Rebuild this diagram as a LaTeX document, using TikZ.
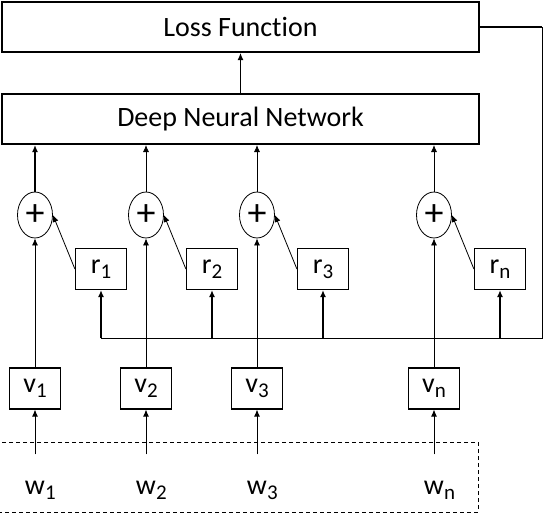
\documentclass[tikz,border=0pt]{standalone}
\usepackage{fontspec}
\setmainfont[Ligatures=NoCommon]{Carlito}
\usetikzlibrary{arrows.meta,shapes,positioning}
\newcommand{\idx}[1]{\raisebox{-5pt}{\fontsize{21}{24}\selectfont #1}}

\begin{document}
\begin{tikzpicture}
  [x=1pt,y=-1pt,
 every node/.style={font=\fontsize{28}{32}\selectfont},
 layer/.style={
  rectangle,
  line width=2pt, % border
  draw=black,
  minimum width=477pt,
  minimum height=50pt},
 sumop/.style={
  ellipse,
  draw=black,
  line width=0.8pt,
  inner sep=0pt,
  minimum width=35pt,
  minimum height=46pt,
  font=\fontsize{38}{40}\selectfont},
 term/.style={
  rectangle,
  draw=black,
  line width=1.2pt,
  inner sep=0pt,
  minimum width=51pt,
  minimum height=41pt},
 word/.style={inner sep=0pt, anchor=base},
 tip/.style={-{Latex[length=7pt,width=6pt]}, line width=0.8pt}]
\useasboundingbox (0,0) rectangle (544,514);
\node (loss) [layer] at (240.5,27) {Loss Function};
\node (dnn) [layer, below=40pt of loss] {Deep Neural Network};
\node (plus1) [sumop] at (35,215) {+};
\node (plus2) [sumop] at (146,215) {+};
\node (plus3) [sumop] at (257,215) {+};
\node (plusn) [sumop] at (434,215) {+};
\node (r1) [term] at (101,269) {r\idx{1}};
\node (r2) [term] at (212,269) {r\idx{2}};
\node (r3) [term] at (323,269) {r\idx{3}};
\node (rn) [term] at (500,269) {r\idx{n}};
\node (v1) [term, below=129pt of plus1] {v\idx{1}};
\node (v2) [term, below=129pt of plus2] {v\idx{2}};
\node (v3) [term, below=129pt of plus3] {v\idx{3}};
\node (vn) [term, below=129pt of plusn] {v\idx{n}};
\node (w1) [word] at (35,494) {w\rlap{\idx{1}}};
\node (w2) [word] at (146,494) {w\rlap{\idx{2}}};
\node (w3) [word] at (257,494) {w\rlap{\idx{3}}};
\node (wn) [word] at (434,494) {w\rlap{\idx{n}}};
\node (inputs) [draw, line width=0.8pt, dash pattern=on 4pt off 3pt, minimum width=480pt, minimum height=70pt] at (238,477) {};
\coordinate (fbtop) at (542,27);
\coordinate (fbbottom) at (542,338);
\path (dnn)  edge[tip, line width=1.2pt] (loss) ;
\path (plus1)  edge[tip, line width=1.6pt] (plus1 |- dnn.south) ;
\path (plus2)  edge[tip] (plus2 |- dnn.south) ;
\path (plus3)  edge[tip] (plus3 |- dnn.south) ;
\path (plusn)  edge[tip] (plusn |- dnn.south) ;
\path (v1)  edge[tip] (plus1) ;
\path (v2)  edge[tip] (plus2) ;
\path (v3)  edge[tip] (plus3) ;
\path (vn)  edge[tip] (plusn) ;
\path (r1.west)  edge[tip] (plus1.east) ;
\path (r2.west)  edge[tip] (plus2.east) ;
\path (r3.west)  edge[tip] (plus3.east) ;
\path (rn.west)  edge[tip] (plusn.east) ;
\path (w1)  edge[tip, shorten <=26pt] (v1) ;
\path (w2)  edge[tip, shorten <=26pt] (v2) ;
\path (w3)  edge[tip, shorten <=26pt] (v3) ;
\path (wn)  edge[tip, shorten <=26pt] (vn) ;
\draw[line width=2.5pt] (loss.east) -- (fbtop) ;
\draw[line width=1pt] (fbtop) -- (fbbottom) -- (r1 |- fbbottom) ;
\path (r1 |- fbbottom)  edge[tip, line width=1.6pt] (r1) ;
\path (r2 |- fbbottom)  edge[tip, line width=2.2pt] (r2) ;
\path (r3 |- fbbottom)  edge[tip, line width=2.2pt] (r3) ;
\path (rn |- fbbottom)  edge[tip, line width=1.6pt] (rn) ;
\end{tikzpicture}
\end{document}
